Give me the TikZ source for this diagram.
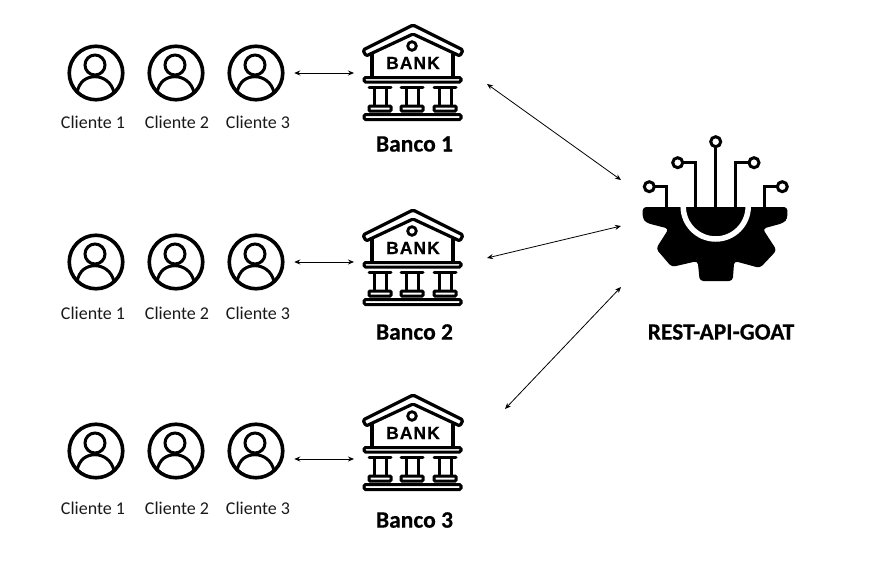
\documentclass[tikz,border=0pt]{standalone}
\usepackage{fontspec}
\usetikzlibrary{arrows.meta}
\setmainfont{Carlito}[BoldFeatures={FakeBold=0.4}]
\newfontfamily\bankfont{Liberation Sans}[BoldFeatures={FakeBold=0.5}]

\tikzset{
    pics/personaicon/.style={code={
        \draw[line width=3pt] (-1,-8) circle (10pt);
        \draw[line width=3pt] (-19,20) .. controls (-17,8) and (-9,3.7) .. (-1,3.7) .. controls (7,3.7) and (16,9) .. (18,20);
    }},
    pics/bancoicon/.style={code={
        % Roof and walls
        \draw[line width=3.2pt, line join=round, rounded corners=1.5pt] (-49,-23) -- (1,-48) -- (51,-23) -- (48,-17) -- (1,-39) -- (-46,-17) -- cycle;
        \draw[line width=3.2pt] (-40,-19) -- (-40,3);
        \draw[line width=3.2pt] (41,-19) -- (41,3);
        \draw[line width=2.8pt] (0,-27) circle (4.3pt);
        \node[font=\bankfont\bfseries\fontsize{17.5}{18}\selectfont] (banktext) at (1,-10) {B\kern1pt A\kern1pt N\kern1pt K};
        % Beams
        \draw[line width=3pt, rounded corners=1.5pt] (-48,4.5) rectangle (49,9);
        \draw[line width=3pt, rounded corners=1.5pt] (-48,41.5) rectangle (49,46.5);
        % Columns
        \foreach \c in {-32,0,33} {
            \draw[line width=3pt, line cap=round] (\c-11,14) -- (\c+11,14);
            \draw[line width=3pt] (\c-6,14) -- (\c-6,33);
            \draw[line width=3pt] (\c+6,14) -- (\c+6,33);
            \draw[line width=3pt, rounded corners=1pt] (\c-11,33) rectangle (\c+11,38);
        }
    }},
    pics/ingranaggio/.style={code={
        % Gear body
        \fill[black, rounded corners=3.5pt] (-73,0) -- (-73,11.7) -- (-69,16) -- (-47,21.7) -- (-59.7,41.7) -- (-44,60) -- (-18,54) -- (-16,74) -- (17,74) -- (18.5,54) -- (44.3,61) -- (61,43.3) -- (47,21.7) -- (67.7,16) -- (71.7,11.7) -- (71.7,0) -- cycle;
        \draw[white, line width=5.5pt] (-32.5,-0.5) arc[start angle=180, end angle=360, radius=32.5pt];
        % Circuit lines
        \draw[line width=3pt] (0,0) -- (0,-61);
        \draw[line width=3pt] (-20,0) -- (-20,-44.3) -- (-33,-44.3);
        \draw[line width=3pt] (-49,0) -- (-49,-20.3) -- (-61.5,-20.3);
        \draw[line width=3pt] (20,0) -- (20,-44.3) -- (33.5,-44.3);
        \draw[line width=3pt] (48.3,0) -- (48.3,-20.3) -- (61.7,-20.3);
        \draw[line width=3pt] (0,-65.3) circle (5pt);
        \draw[line width=3pt] (-38,-44.3) circle (5pt);
        \draw[line width=3pt] (-66.4,-20.3) circle (5pt);
        \draw[line width=3pt] (38.3,-44.3) circle (5pt);
        \draw[line width=3pt] (66.6,-20.3) circle (5pt);
    }}
}

\begin{document}
\begin{tikzpicture}[x=1pt, y=-1pt]
    % Define styles for shapes
    \tikzstyle{cliente} = [draw, circle, line width=3.6pt, minimum size=53.5pt, inner sep=0pt, outer sep=11.5pt]
    \tikzstyle{banco} = [minimum width=100pt, minimum height=98pt, inner sep=0pt, outer sep=8pt]
    \tikzstyle{testo} = [font=\fontsize{18}{20}\selectfont, text=black!90]
    \tikzstyle{titolo} = [font=\bfseries\fontsize{23.5}{25}\selectfont]
    \tikzstyle{freccia} = [{Stealth[length=6pt,width=5pt]}-{Stealth[length=6pt,width=5pt]}, line width=0.8pt]

    \useasboundingbox (0,0) rectangle (870,562);

    % Draw the first row
    \node[cliente] (cliente11) at (96,73) {};
    \node[cliente] (cliente12) at (176,73) {};
    \node[cliente] (cliente13) at (256,73) {};
    \pic at (cliente11) {personaicon};
    \pic at (cliente12) {personaicon};
    \pic at (cliente13) {personaicon};
    \node[testo] (nome11) at (93,122) {Cliente 1};
    \node[testo] (nome12) at (177,122) {Cliente 2};
    \node[testo] (nome13) at (258,122) {Cliente 3};
    \node[banco] (banco1) at (412,73) {};
    \pic at (banco1) {bancoicon};
    \node[titolo] (titolo1) at (414.5,144) {Banco 1};

    % Draw the second row
    \node[cliente] (cliente21) at (96,262) {};
    \node[cliente] (cliente22) at (176,262) {};
    \node[cliente] (cliente23) at (256,262) {};
    \pic at (cliente21) {personaicon};
    \pic at (cliente22) {personaicon};
    \pic at (cliente23) {personaicon};
    \node[testo] (nome21) at (93,313) {Cliente 1};
    \node[testo] (nome22) at (177,313) {Cliente 2};
    \node[testo] (nome23) at (258,313) {Cliente 3};
    \node[banco] (banco2) at (412,258) {};
    \pic at (banco2) {bancoicon};
    \node[titolo] (titolo2) at (414.5,332) {Banco 2};

    % Draw the third row
    \node[cliente] (cliente31) at (96,451) {};
    \node[cliente] (cliente32) at (176,451) {};
    \node[cliente] (cliente33) at (256,451) {};
    \pic at (cliente31) {personaicon};
    \pic at (cliente32) {personaicon};
    \pic at (cliente33) {personaicon};
    \node[testo] (nome31) at (93,508) {Cliente 1};
    \node[testo] (nome32) at (177,508) {Cliente 2};
    \node[testo] (nome33) at (258,508) {Cliente 3};
    \node[banco] (banco3) at (412,443) {};
    \pic at (banco3) {bancoicon};
    \node[titolo] (titolo3) at (414.5,520) {Banco 3};

    % Draw the gear with its label
    \node[minimum width=146pt, minimum height=140pt, inner sep=0pt] (api) at (715,212) {};
    \pic at (715.7,207) {ingranaggio};
    \node[titolo] (titoloapi) at (721,332) {REST-API-GOAT};

    % Draw the arrows between clients and banks
    \draw[freccia] (cliente13.east) -- (cliente13.east -| banco1.west);
    \draw[freccia] (cliente23.east) -- (cliente23.east -| banco2.west);
    \draw[freccia] ([yshift=-8pt]cliente33.east) -- ([yshift=-8pt]cliente33.east -| banco3.west);

    % Draw the arrows between banks and gear
    \coordinate (uscita1) at (487,84);
    \coordinate (uscita2) at (487,258);
    \coordinate (uscita3) at (505,409);
    \coordinate (ingresso1) at (621,180);
    \coordinate (ingresso2) at (621,226);
    \coordinate (ingresso3) at (621,287);
    \draw[freccia] (uscita1) -- (ingresso1);
    \draw[freccia] (uscita2) -- (ingresso2);
    \draw[freccia] (uscita3) -- (ingresso3);
\end{tikzpicture}
\end{document}
